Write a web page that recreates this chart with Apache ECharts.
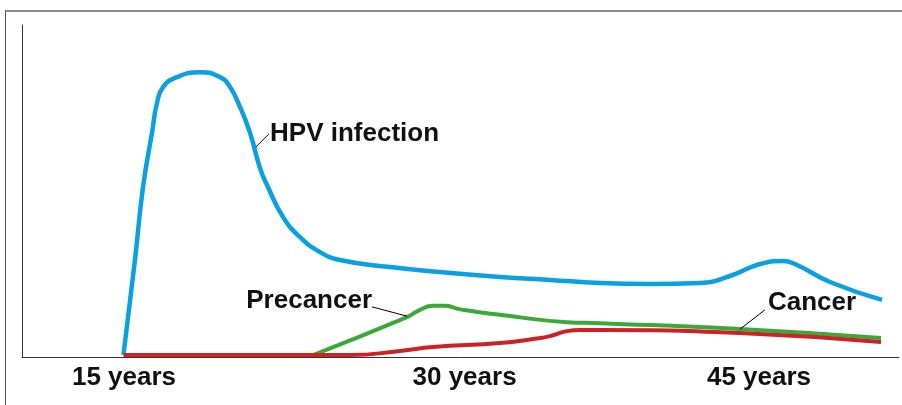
<!DOCTYPE html>
<html>
<head>
<meta charset="utf-8">
<script src="https://cdn.jsdelivr.net/npm/echarts@6/dist/echarts.min.js"></script>
<style>
  html, body { margin: 0; padding: 0; background: #fff; }
  #frame { position: absolute; left: 5px; top: 10px; width: 1000px; height: 500px;
           border-left: 1px solid #555; border-top: 2px solid #8a8a8a; }
  #chart { position: absolute; left: 0; top: 0; width: 902px; height: 405px; }
</style>
</head>
<body>
<div id="frame"></div>
<div id="chart"></div>
<script>
// time runs 0..100 along the axis, level 0..100 up the axis
const tickPos = [11.63, 50.46, 84.04];
const tickLabels = ['15 years', '30 years', '45 years'];

const hpv = [
  [11.57, 0.6], [12.88, 29.2], [13.8, 51.2], [14.82, 67.5], [15.39, 76.5],
  [16.08, 81.3], [17.67, 84.3], [20.3, 85.8], [22.58, 84.3], [23.72, 81.3],
  [24.86, 75.3], [26.0, 67.5], [27.14, 56.9], [27.94, 51.8], [29.76, 42.2],
  [31.7, 36.1], [33.98, 31.6], [36.26, 29.2], [41.96, 27.1], [47.66, 25.6],
  [54.5, 24.1], [60.21, 23.2], [65.91, 22.3], [71.61, 22.0], [77.31, 22.3],
  [80.73, 24.4], [84.15, 28.0], [86.77, 28.9], [88.14, 28.0], [92.13, 22.6],
  [98.06, 17.2]
];
const precancer = [
  [33.18, 0.6], [43.9, 12.0], [45.38, 14.2], [46.86, 15.4], [48.23, 15.4],
  [49.71, 14.5], [51.08, 13.9], [54.5, 12.7], [62.14, 10.5], [65.91, 10.2],
  [81.87, 8.4], [97.95, 5.7]
];
const cancer = [
  [11.57, 0.6], [37.4, 0.6], [43.1, 1.8], [46.86, 3.0], [54.5, 4.2],
  [58.27, 5.4], [60.21, 6.3], [62.14, 7.8], [63.63, 8.1], [65.91, 8.1],
  [81.87, 7.2], [97.95, 4.5]
];

// annotation anchors [x, y] and leader lines
const hpvLabelAt = [28.28, 67.2];
const hpvLeader = [[26.68, 63.3], [28.16, 67.2]];
const preLabelAt = [39.91, 16.9];
const preLeader = [[39.91, 15.1], [43.9, 12.3]];
const canLabelAt = [85.06, 16.3];
const canLeader = [[84.72, 14.2], [81.87, 8.4]];

const font = { fontFamily: 'Liberation Sans, Arial, sans-serif', fontWeight: 'bold', fontSize: 26, color: '#111' };

function note(at, name, pos) {
  return {
    symbol: 'circle', symbolSize: 0, silent: true,
    label: Object.assign({ show: true, position: pos, distance: 0, formatter: '{b}' }, font),
    data: [{ coord: at, name: name }]
  };
}
function leader(pts) {
  return {
    symbol: ['none', 'none'], silent: true,
    lineStyle: { color: '#000', width: 1, type: 'solid' },
    label: { show: false },
    data: [[{ coord: pts[0] }, { coord: pts[1] }]]
  };
}
function line(name, data, color, width) {
  return {
    name: name, type: 'line', data: data, smooth: 0.5, showSymbol: false,
    lineStyle: { color: color, width: width, cap: 'butt' }, itemStyle: { color: color },
    animation: false
  };
}

const chart = echarts.init(document.getElementById('chart'));
const sHpv = line('HPV infection', hpv, '#0aa0e2', 4.5);
sHpv.markPoint = note(hpvLabelAt, 'HPV infection', 'right');
sHpv.markLine = leader(hpvLeader);
const sPre = line('Precancer', precancer, '#3aa93a', 4);
sPre.markPoint = note(preLabelAt, 'Precancer', 'left');
sPre.markLine = leader(preLeader);
const sCan = line('Cancer', cancer, '#cc2127', 4);
sCan.markPoint = note(canLabelAt, 'Cancer', 'right');
sCan.markLine = leader(canLeader);

chart.setOption({
  animation: false,
  grid: { left: 22, right: 3, top: 25, bottom: 48, containLabel: false },
  xAxis: {
    type: 'value', min: 0, max: 100,
    axisLine: { show: true, lineStyle: { color: '#333', width: 1 } },
    axisTick: { show: false },
    splitLine: { show: false },
    axisLabel: Object.assign({
      customValues: tickPos, margin: 8,
      formatter: function (v) {
        const i = tickPos.findIndex(p => Math.abs(p - v) < 1e-6);
        return i >= 0 ? tickLabels[i] : '';
      }
    }, font)
  },
  yAxis: {
    type: 'value', min: 0, max: 100,
    axisLine: { show: true, lineStyle: { color: '#333', width: 1 } },
    axisTick: { show: false }, axisLabel: { show: false }, splitLine: { show: false }
  },
  series: [sHpv, sPre, sCan]
});
</script>
</body>
</html>
